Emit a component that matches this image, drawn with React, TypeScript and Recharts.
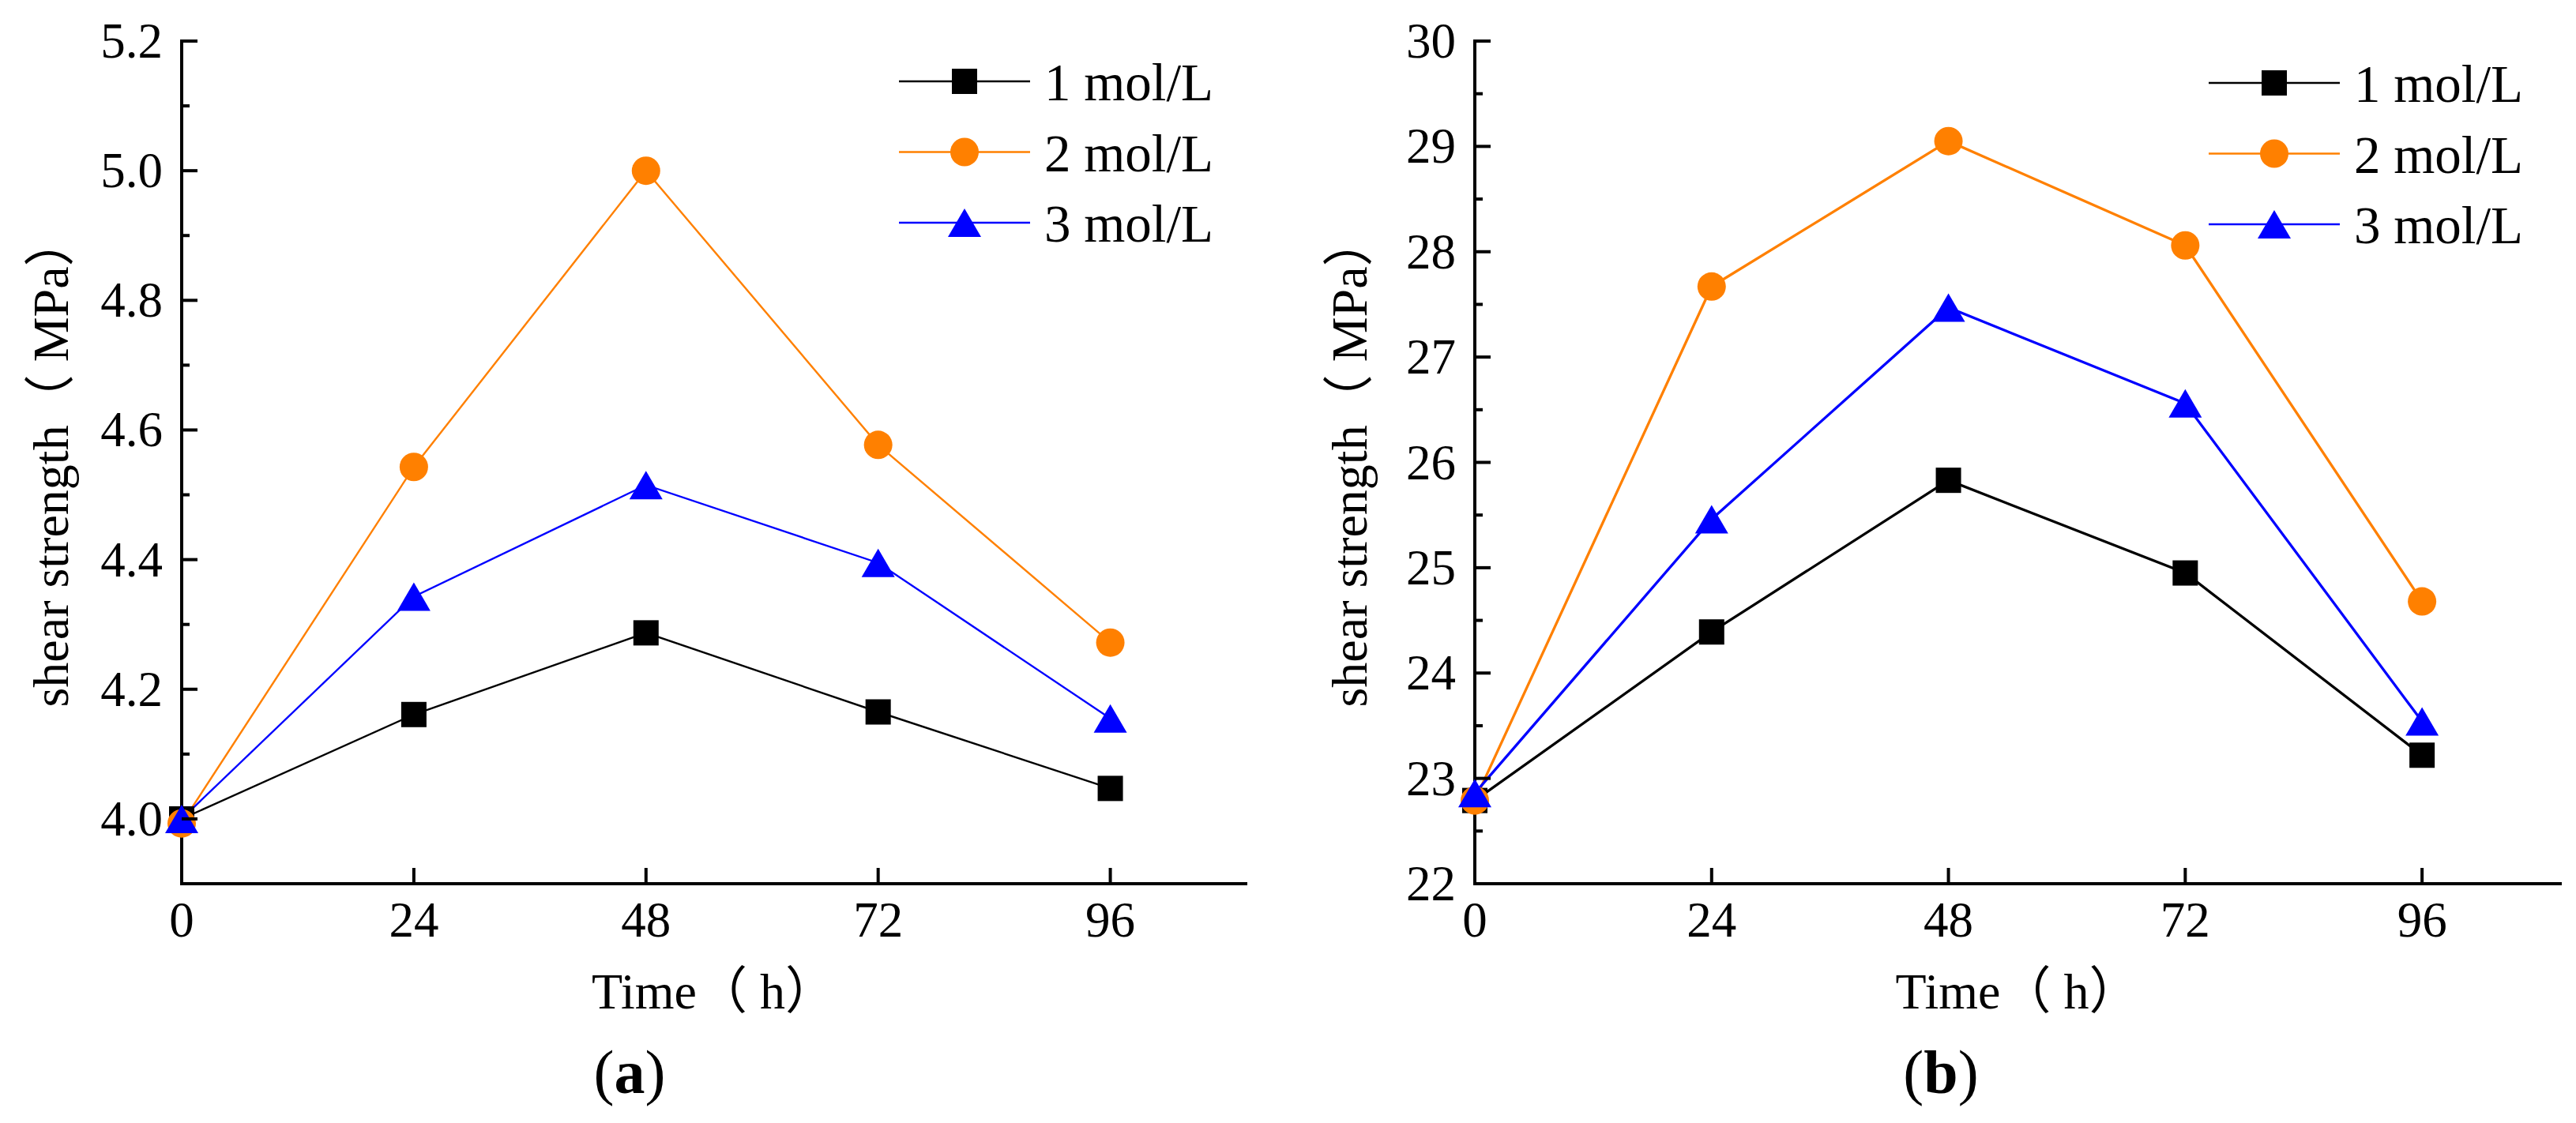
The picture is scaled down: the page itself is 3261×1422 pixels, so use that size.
import React from 'react';
import { LineChart, Line, XAxis, YAxis, Legend } from 'recharts';

const hours = [0, 24, 48, 72, 96];
const seriesNames = ['1 mol/L', '2 mol/L', '3 mol/L'];
const seriesKeys = ['s1', 's2', 's3'];
const seriesColors = ['#000000', '#FF8000', '#0000FF'];
const seriesShapes = ['square', 'circle', 'triangle'];

// panel (a)
const shearA1 = [4.0, 4.161, 4.287, 4.165, 4.047];
const shearA2 = [3.993, 4.543, 5.0, 4.577, 4.272];
const shearA3 = [4.0, 4.343, 4.515, 4.395, 4.155];

// panel (b)
const shearB1 = [22.79, 24.39, 25.83, 24.95, 23.22];
const shearB2 = [22.79, 27.67, 29.05, 28.06, 24.68];
const shearB3 = [22.86, 25.46, 27.47, 26.56, 23.54];

const xTicks = [0, 24, 48, 72, 96];
const yTicksA = [4.0, 4.1, 4.2, 4.3, 4.4, 4.5, 4.6, 4.7, 4.8, 4.9, 5.0, 5.1, 5.2];
const yTicksB = [22, 22.5, 23, 23.5, 24, 24.5, 25, 25.5, 26, 26.5, 27, 27.5, 28, 28.5, 29, 29.5, 30];

const FONT = "'Liberation Serif', 'Noto Sans CJK SC', serif";

const buildRows = (a: number[], b: number[], c: number[]) =>
  hours.map((t, i) => ({ t, s1: a[i], s2: b[i], s3: c[i] }));

const Marker = ({ shape, cx, cy, color }: any) => {
  if (cx == null || cy == null) return null;
  if (shape === 'square') {
    return <rect x={cx - 16} y={cy - 16} width={32} height={32} fill={color} />;
  }
  if (shape === 'circle') {
    return <circle cx={cx} cy={cy} r={18} fill={color} />;
  }
  return (
    <polygon
      points={`${cx},${cy - 18} ${cx + 21},${cy + 18} ${cx - 21},${cy + 18}`}
      fill={color}
    />
  );
};

const renderXTick = (p: any) => (
  <g>
    <line x1={p.x} x2={p.x} y1={p.y} y2={p.y - 20} stroke="#000" strokeWidth={4} />
    <text x={p.x} y={p.y + 67} textAnchor="middle" fontFamily={FONT} fontSize={63} fill="#000">
      {p.payload.value}
    </text>
  </g>
);

const makeYTick = (isMajor: (v: number) => boolean, fmt: (v: number) => string) => (p: any) => {
  const v = p.payload.value;
  const major = isMajor(v);
  return (
    <g>
      <line x1={p.x} x2={p.x + (major ? 20 : 10)} y1={p.y} y2={p.y} stroke="#000" strokeWidth={4} />
      {major && (
        <text x={p.x - 24} y={p.y + 21} textAnchor="end" fontFamily={FONT} fontSize={63} fill="#000">
          {fmt(v)}
        </text>
      )}
    </g>
  );
};

const renderLegend = (props: any) => {
  const items = props.payload || [];
  return (
    <svg width={480} height={250} style={{ overflow: 'visible' }}>
      {items.map((it: any, i: number) => {
        const idx = seriesKeys.indexOf(it.dataKey);
        const rowY = 43 + i * 89.5;
        const color = seriesColors[idx];
        return (
          <g key={it.dataKey}>
            <line x1={8} x2={174} y1={rowY} y2={rowY} stroke={color} strokeWidth={2.5} />
            <Marker shape={seriesShapes[idx]} cx={91} cy={rowY} color={color} />
            <text x={192} y={rowY + 24} fontFamily={FONT} fontSize={67} fill="#000">
              {seriesNames[idx]}
            </text>
          </g>
        );
      })}
    </svg>
  );
};

interface PanelProps {
  data: any[];
  yDomain: [number, number];
  yTicks: number[];
  isMajor: (v: number) => boolean;
  fmt: (v: number) => string;
  width: number;
  yAxisWidth: number;
  marginRight: number;
  lineWidth: number;
  legendLeft: number;
  legendTop: number;
  yLabelX: number;
  tag: string;
  tagX: number;
}

const Panel: React.FC<PanelProps> = (pp) => {
  const axisLine = { stroke: '#000', strokeWidth: 4, strokeLinecap: 'square' as const };
  return (
    <LineChart
      width={pp.width}
      height={1422}
      data={pp.data}
      margin={{ top: 52, right: pp.marginRight, bottom: 0, left: 0 }}
    >
      <XAxis
        dataKey="t"
        type="number"
        domain={[0, 110]}
        ticks={xTicks}
        interval={0}
        height={303}
        tickSize={0}
        tickMargin={0}
        tickLine={false}
        axisLine={axisLine}
        tick={renderXTick}
        label={(lp: any) => {
          const vb = lp.viewBox;
          return (
            <g>
              <text x={vb.x + vb.width / 2} y={vb.y + 158} textAnchor="middle" fontFamily={FONT} fontSize={64} fill="#000">
                Time（ h）
              </text>
              <text x={pp.tagX} y={vb.y + 265} textAnchor="middle" fontFamily={FONT} fontSize={78} fill="#000">
                (<tspan fontWeight="bold">{pp.tag}</tspan>)
              </text>
            </g>
          );
        }}
      />
      <XAxis
        xAxisId="top"
        orientation="top"
        type="number"
        domain={[0, 110]}
        height={0}
        tick={false}
        tickLine={false}
        axisLine={axisLine}
      />
      <YAxis
        type="number"
        domain={pp.yDomain}
        ticks={pp.yTicks}
        interval={0}
        width={pp.yAxisWidth}
        tickSize={0}
        tickMargin={0}
        tickLine={false}
        axisLine={axisLine}
        allowDataOverflow
        tick={makeYTick(pp.isMajor, pp.fmt)}
        label={(lp: any) => {
          const vb = lp.viewBox;
          const cy = vb.y + vb.height / 2 - 1;
          return (
            <text
              x={pp.yLabelX}
              y={cy}
              transform={`rotate(-90, ${pp.yLabelX}, ${cy})`}
              textAnchor="middle"
              dominantBaseline="central"
              fontFamily={FONT}
              fontSize={64}
              fill="#000"
            >
              shear strength（ MPa）
            </text>
          );
        }}
      />
      <YAxis
        yAxisId="right"
        orientation="right"
        type="number"
        domain={pp.yDomain}
        width={0}
        tick={false}
        tickLine={false}
        axisLine={axisLine}
      />
      <Legend
        layout="horizontal"
        verticalAlign="middle"
        align="center"
        wrapperStyle={{ left: pp.legendLeft, top: pp.legendTop, width: 480, height: 250 }}
        content={renderLegend}
      />
      {seriesKeys.map((k, i) => (
        <Line
          key={k}
          dataKey={k}
          name={seriesNames[i]}
          type="linear"
          stroke={seriesColors[i]}
          strokeWidth={pp.lineWidth}
          isAnimationActive={false}
          activeDot={false}
          dot={(d: any) => (
            <Marker key={`${k}-${d.index}`} shape={seriesShapes[i]} cx={d.cx} cy={d.cy} color={seriesColors[i]} />
          )}
        />
      ))}
    </LineChart>
  );
};

const App: React.FC = () => {
  const dataA = buildRows(shearA1, shearA2, shearA3);
  const dataB = buildRows(shearB1, shearB2, shearB3);
  return (
    <div style={{ position: 'absolute', left: 0, top: 0, width: 3261, height: 1422, background: '#fff' }}>
      <div style={{ position: 'absolute', left: 0, top: 0 }}>
        <Panel
          data={dataA}
          yDomain={[3.9, 5.2]}
          yTicks={yTicksA}
          isMajor={(v) => Math.round(v * 10) % 2 === 0}
          fmt={(v) => v.toFixed(1)}
          width={1630}
          yAxisWidth={230}
          marginRight={53}
          lineWidth={2.4}
          legendLeft={1130}
          legendTop={60}
          yLabelX={64}
          tag="a"
          tagX={797}
        />
      </div>
      <div style={{ position: 'absolute', left: 1630, top: 0 }}>
        <Panel
          data={dataB}
          yDomain={[22, 30]}
          yTicks={yTicksB}
          isMajor={(v) => Number.isInteger(v)}
          fmt={(v) => String(v)}
          width={1631}
          yAxisWidth={237}
          marginRight={20}
          lineWidth={3.3}
          legendLeft={1158}
          legendTop={62}
          yLabelX={78}
          tag="b"
          tagX={827}
        />
      </div>
    </div>
  );
};

export default App;
